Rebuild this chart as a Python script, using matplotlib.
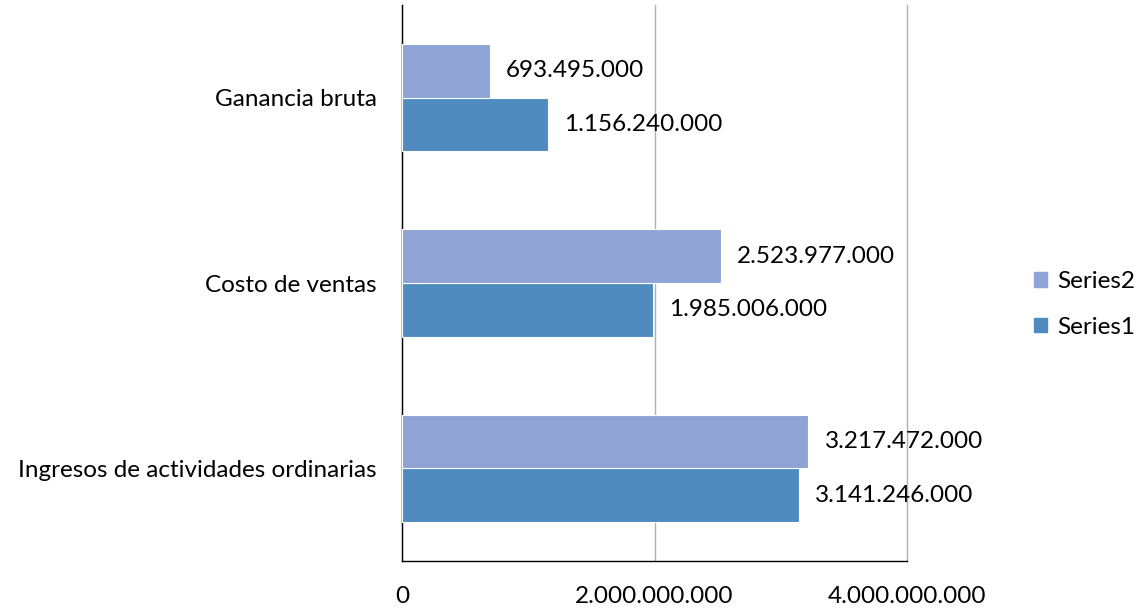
import numpy as np
import matplotlib.pyplot as plt
from matplotlib.patches import Patch

# Data
categories = ["Ingresos de actividades ordinarias", "Costo de ventas", "Ganancia bruta"]
series1 = [3141246000, 1985006000, 1156240000]
series2 = [3217472000, 2523977000, 693495000]
xticks = [0, 2000000000, 4000000000]

c1 = '#4F8BBE'
c2 = '#8FA3D5'

plt.rcParams['font.family'] = ['Lato', 'DejaVu Sans']

def fmt(v):
    return f"{v:,.0f}".replace(",", ".")

fig = plt.figure(figsize=(11.37, 6.09), dpi=100)
ax = fig.add_axes([0.3536, 0.0788, 0.4441, 0.913])

y = np.arange(len(categories))
h = 0.289

ax.barh(y - h/2, series1, height=h, color=c1, edgecolor='white', linewidth=0.8, zorder=3)
ax.barh(y + h/2, series2, height=h, color=c2, edgecolor='white', linewidth=0.8, zorder=3)

# value labels
off = 0.13e9
for yi, v in zip(y, series1):
    ax.text(v + off, yi - h/2, fmt(v), va='center', ha='left', fontsize=17.5)
for yi, v in zip(y, series2):
    ax.text(v + off, yi + h/2, fmt(v), va='center', ha='left', fontsize=17.5)

ax.set_xlim(0, 4e9)
ax.set_ylim(-0.5, 2.5)
ax.set_xticks(xticks)
ax.set_xticklabels([fmt(t) for t in xticks], fontsize=17.5)
ax.set_yticks(y)
ax.set_yticklabels(categories, fontsize=17.5)
ax.tick_params(axis='x', length=0, pad=18)
ax.tick_params(axis='y', length=0, pad=18)

ax.grid(axis='x', color='#b0b0b0', linewidth=1, zorder=0)
for gl in ax.get_xgridlines():
    gl.set_clip_on(False)
for s in ['top', 'right']:
    ax.spines[s].set_visible(False)
ax.spines['left'].set_color('black')
ax.spines['bottom'].set_color('black')
ax.spines['left'].set_linewidth(1)
ax.spines['bottom'].set_linewidth(1)

handles = [Patch(color=c2, label='Series2'), Patch(color=c1, label='Series1')]
fig.legend(handles=handles, loc='center left', bbox_to_anchor=(0.89, 0.5),
           frameon=False, fontsize=17.5, handlelength=0.55, handleheight=0.55,
           handletextpad=0.4, labelspacing=1.0)

fig.savefig('out.png', dpi=100)
